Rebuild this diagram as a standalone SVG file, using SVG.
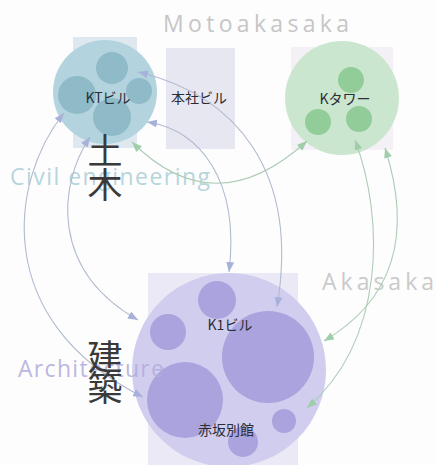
<svg xmlns="http://www.w3.org/2000/svg" width="436" height="465" viewBox="0 0 436 465">
<style>
.area{font-family:"Open Sans","Liberation Sans",sans-serif;font-size:23px}
.lbl{font-family:"Noto Sans CJK JP","Noto Sans",sans-serif;font-size:14px;fill:#2a2f36;text-anchor:middle}
.big{font-family:"Noto Sans CJK JP",sans-serif;font-size:35px;font-weight:400;fill:#3a3a3a;text-anchor:middle}
.cb{fill:none;stroke:#b0bad0;stroke-width:1.1}
.cg{fill:none;stroke:#aecdb7;stroke-width:1.1}
</style>
<defs>
<marker id="ab" viewBox="0 0 10 8" refX="10" refY="4" markerWidth="10" markerHeight="8" markerUnits="userSpaceOnUse" orient="auto-start-reverse"><path d="M0,0 L10,4 L0,8 Z" fill="#a8b1da"/></marker>
<marker id="ag" viewBox="0 0 10 8" refX="10" refY="4" markerWidth="10" markerHeight="8" markerUnits="userSpaceOnUse" orient="auto-start-reverse"><path d="M0,0 L10,4 L0,8 Z" fill="#a0cdaa"/></marker>
</defs>
<rect width="436" height="465" fill="#fdfdfd"/>
<!-- backdrop rectangles -->
<rect x="73" y="37" width="64" height="111" fill="#dfe8ee"/>
<rect x="291" y="47" width="102" height="103" fill="#f3f1f5"/>
<rect x="148" y="273" width="150" height="192" fill="#ebe9f5"/>

<g id="node-kt">
<circle cx="105" cy="92" r="52" fill="#b3d4de"/>
<circle cx="112" cy="68" r="16" fill="#8fbac8"/>
<circle cx="77" cy="95" r="19" fill="#8fbac8"/>
<circle cx="139" cy="91" r="13" fill="#8fbac8"/>
<circle cx="112" cy="117" r="19" fill="#8fbac8"/>
<text class="lbl" x="108" y="103">KTビル</text>
</g>
<g id="node-honsha">
<rect x="166" y="48" width="69" height="101" fill="#e7e7f1"/>
<text class="lbl" x="199" y="103">本社ビル</text>
</g>
<g id="node-ktower">
<circle cx="342" cy="98" r="57" fill="#cbe6cf"/>
<circle cx="351" cy="80" r="13" fill="#92cc98"/>
<circle cx="318" cy="122" r="13" fill="#92cc98"/>
<circle cx="359" cy="119" r="13" fill="#92cc98"/>
<text class="lbl" x="345" y="104">Kタワー</text>
</g>
<g id="node-akasaka">
<circle cx="229" cy="370" r="97" fill="#d1cdef"/>
<circle cx="217" cy="300" r="19" fill="#aaa3dd"/>
<circle cx="168" cy="332" r="18" fill="#aaa3dd"/>
<circle cx="268" cy="357" r="46" fill="#aaa3dd"/>
<circle cx="185" cy="400" r="38" fill="#aaa3dd"/>
<circle cx="284" cy="421" r="12" fill="#aaa3dd"/>
<circle cx="243" cy="442" r="15" fill="#aaa3dd"/>
<g id="node-k1"><text class="lbl" x="230" y="330">K1ビル</text></g>
<g id="node-bekkan"><text class="lbl" x="226" y="435">赤坂別館</text></g>
</g>

<g id="area-labels">
<text class="area" x="163" y="32" textLength="186" lengthAdjust="spacing" fill="#c6c6c6">Motoakasaka</text>
<text class="area" x="322" y="290" textLength="112" lengthAdjust="spacing" fill="#cacaca">Akasaka</text>
<text class="area" x="10" y="185" textLength="200" lengthAdjust="spacing" fill="#aed0d8" fill-opacity="0.9">Civil engineering</text>
<text class="area" x="18" y="377" textLength="146" lengthAdjust="spacing" fill="#b2aedc" fill-opacity="0.9">Architecture</text>
</g>

<g id="connectors">
<path class="cb" d="M64,113 C10,180 -10,320 143,397" marker-start="url(#ab)" marker-end="url(#ab)"/>
<path class="cb" d="M90,137 C58,185 50,270 138,320" marker-start="url(#ab)" marker-end="url(#ab)"/>
<path class="cg" d="M132,142 Q215,225 307,141" marker-start="url(#ag)" marker-end="url(#ag)"/>
<path class="cb" d="M147,122 C200,130 240,180 229,272" marker-start="url(#ab)" marker-end="url(#ab)"/>
<path class="cb" d="M138,72 C235,95 300,170 277,307" marker-start="url(#ab)" marker-end="url(#ab)"/>
<path class="cg" d="M355,140 C385,220 385,340 307,408" marker-start="url(#ag)" marker-end="url(#ag)"/>
<path class="cg" d="M385,148 C405,210 410,290 324,341" marker-start="url(#ag)" marker-end="url(#ag)"/>
</g>

<g id="headings">
<text class="big" x="105" y="164">土</text>
<text class="big" x="105" y="198">木</text>
<text class="big" x="105" y="370">建</text>
<text class="big" x="105" y="401">築</text>
</g>
</svg>
